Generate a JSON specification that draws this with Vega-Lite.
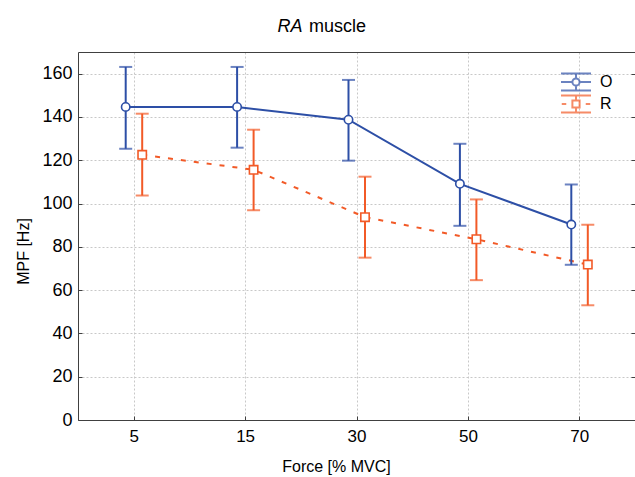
{
  "$schema": "https://vega.github.io/schema/vega-lite/v6.json",
  "width": 557,
  "height": 368,
  "autosize": {"type": "none"},
  "padding": {"left": 78, "top": 52, "right": 0, "bottom": 57},
  "background": "white",
  "title": {"text": "muscle", "anchor": "start", "frame": "group", "dx": 231, "offset": -33, "baseline": "alphabetic", "fontSize": 18, "fontWeight": "normal", "font": "Liberation Sans", "color": "#000000"},
  "config": {
    "font": "Liberation Sans",
    "view": {"stroke": null},
    "axisLeft": {"domainColor": "#404040", "grid": true, "gridColor": "#c8c8c8", "gridDash": [2, 2], "tickColor": "#404040", "tickSize": -4, "labelFontSize": 18, "labelColor": "#000000", "labelPadding": 10, "titleFontSize": 16, "titleFontWeight": "normal", "titleColor": "#000000", "titleX": -50, "titleY": 199, "titleAngle": 270, "titleBaseline": "alphabetic", "titleAlign": "center", "values": [0, 20, 40, 60, 80, 100, 120, 140, 160]},
    "axisBottom": {"domainColor": "#404040", "grid": true, "gridColor": "#c8c8c8", "gridDash": [2, 2], "tickColor": "#404040", "tickSize": -4, "labelFontSize": 17, "labelColor": "#000000", "labelPadding": 12, "labelAngle": 0, "titleFontSize": 16, "titleFontWeight": "normal", "titleColor": "#000000", "titleX": 258, "titleY": 51, "titleBaseline": "alphabetic", "titleAlign": "center"},
    "axisTop": {"domainColor": "#404040", "ticks": false, "labels": false, "grid": false, "titleFontSize": 18, "titleFontWeight": "normal", "titleFontStyle": "italic", "titleColor": "#000000", "titleX": 199, "titleY": -21, "titleAlign": "left", "titleBaseline": "alphabetic"},
    "axisRight": {"domain": false, "labels": false, "grid": false, "tickColor": "#404040", "tickSize": -4, "values": [0, 20, 40, 60, 80, 100, 120, 140, 160]}
  },
  "data": {"values": [
    {"force": "5", "series": "O", "mean": 144.6, "lo": 125.3, "hi": 163.1},
    {"force": "15", "series": "O", "mean": 144.6, "lo": 125.8, "hi": 163.1},
    {"force": "30", "series": "O", "mean": 138.7, "lo": 119.8, "hi": 157.1},
    {"force": "50", "series": "O", "mean": 109.1, "lo": 89.7, "hi": 127.6},
    {"force": "70", "series": "O", "mean": 90.3, "lo": 71.7, "hi": 108.8},
    {"force": "5", "series": "R", "mean": 122.5, "lo": 103.7, "hi": 141.5},
    {"force": "15", "series": "R", "mean": 115.6, "lo": 96.9, "hi": 134.1},
    {"force": "30", "series": "R", "mean": 93.7, "lo": 75.0, "hi": 112.4},
    {"force": "50", "series": "R", "mean": 83.5, "lo": 64.6, "hi": 101.9},
    {"force": "70", "series": "R", "mean": 71.8, "lo": 53.0, "hi": 90.2}
  ]},
  "layer": [
    {
      "encoding": {
        "x": {"field": "force", "type": "ordinal", "title": "Force [% MVC]", "scale": {"type": "point", "padding": 0.5, "domain": ["5", "15", "30", "50", "70"]}}
      },
      "layer": [
        {"transform": [{"filter": "datum.series === 'R'"}], "mark": {"type": "line", "color": "#f25a27", "strokeWidth": 2, "strokeDash": [5, 8], "xOffset": 8.5}, "encoding": {"y": {"field": "mean", "type": "quantitative", "title": "MPF [Hz]", "scale": {"domain": [0, 170], "nice": false}}}},
        {"transform": [{"filter": "datum.series === 'O'"}], "mark": {"type": "line", "color": "#2d4fa6", "strokeWidth": 2, "xOffset": -8}, "encoding": {"y": {"field": "mean", "type": "quantitative", "title": "MPF [Hz]", "scale": {"domain": [0, 170], "nice": false}}}},
        {"transform": [{"filter": "datum.series === 'O'"}], "mark": {"type": "rule", "color": "#2d4fa6", "strokeWidth": 2, "xOffset": -8}, "encoding": {"y": {"field": "lo", "type": "quantitative", "title": "MPF [Hz]"}, "y2": {"field": "hi"}}},
        {"transform": [{"filter": "datum.series === 'O'"}], "mark": {"type": "tick", "orient": "horizontal", "color": "#2d4fa6", "thickness": 2, "size": 13, "xOffset": -8}, "encoding": {"y": {"field": "hi", "type": "quantitative", "title": "MPF [Hz]"}}},
        {"transform": [{"filter": "datum.series === 'O'"}], "mark": {"type": "tick", "orient": "horizontal", "color": "#2d4fa6", "thickness": 2, "size": 13, "xOffset": -8}, "encoding": {"y": {"field": "lo", "type": "quantitative", "title": "MPF [Hz]"}}},
        {"transform": [{"filter": "datum.series === 'R'"}], "mark": {"type": "rule", "color": "#f25a27", "strokeWidth": 2, "xOffset": 8.5}, "encoding": {"y": {"field": "lo", "type": "quantitative", "title": "MPF [Hz]"}, "y2": {"field": "hi"}}},
        {"transform": [{"filter": "datum.series === 'R'"}], "mark": {"type": "tick", "orient": "horizontal", "color": "#f25a27", "thickness": 2, "size": 13, "xOffset": 8.5}, "encoding": {"y": {"field": "hi", "type": "quantitative", "title": "MPF [Hz]"}}},
        {"transform": [{"filter": "datum.series === 'R'"}], "mark": {"type": "tick", "orient": "horizontal", "color": "#f25a27", "thickness": 2, "size": 13, "xOffset": 8.5}, "encoding": {"y": {"field": "lo", "type": "quantitative", "title": "MPF [Hz]"}}},
        {"transform": [{"filter": "datum.series === 'O'"}], "mark": {"type": "point", "shape": "circle", "filled": true, "fill": "white", "stroke": "#2d4fa6", "strokeWidth": 1.6, "size": 70, "opacity": 1, "xOffset": -8}, "encoding": {"y": {"field": "mean", "type": "quantitative", "title": "MPF [Hz]"}}},
        {"transform": [{"filter": "datum.series === 'R'"}], "mark": {"type": "point", "shape": "square", "filled": true, "fill": "white", "stroke": "#f25a27", "strokeWidth": 1.6, "size": 70, "opacity": 1, "xOffset": 8.5}, "encoding": {"y": {"field": "mean", "type": "quantitative", "title": "MPF [Hz]"}}}
      ]
    },
    {
      "transform": [{"filter": "false"}],
      "mark": {"type": "point", "filled": false, "strokeWidth": 2},
      "encoding": {
        "x": {"field": "force", "type": "ordinal", "axis": {"orient": "top", "title": "RA"}},
        "y": {"field": "mean", "type": "quantitative", "axis": {"orient": "right", "title": null}},
        "color": {"field": "series", "type": "nominal", "scale": {"domain": ["O", "R"], "range": ["#2d4fa6", "#f25a27"]},
          "legend": {"orient": "none", "legendX": 482, "legendY": 19, "title": null, "padding": 0, "symbolSize": 900, "symbolStrokeWidth": 2, "labelFontSize": 16, "labelColor": "#000000", "labelOffset": 8, "rowPadding": 0, "clipHeight": 22, "labelFont": "Liberation Sans"}},
        "shape": {"field": "series", "type": "nominal", "scale": {"domain": ["O", "R"], "range": [
          "M-1,-0.57H1M-1,0.57H1M0,-0.57V-0.24M0,0.24V0.57M-1,0H-0.24M0.24,0H1M0.24,0A0.24,0.24,0,1,1,-0.24,0A0.24,0.24,0,1,1,0.24,0",
          "M-1,-0.57H1M-1,0.57H1M0,-0.57V-0.24M0,0.24V0.57M-0.95,0H-0.65M0.65,0H0.95M-0.24,-0.24H0.24V0.24H-0.24Z"
        ]}}
      }
    }
  ],
  "resolve": {"axis": {"x": "independent", "y": "independent"}}
}
